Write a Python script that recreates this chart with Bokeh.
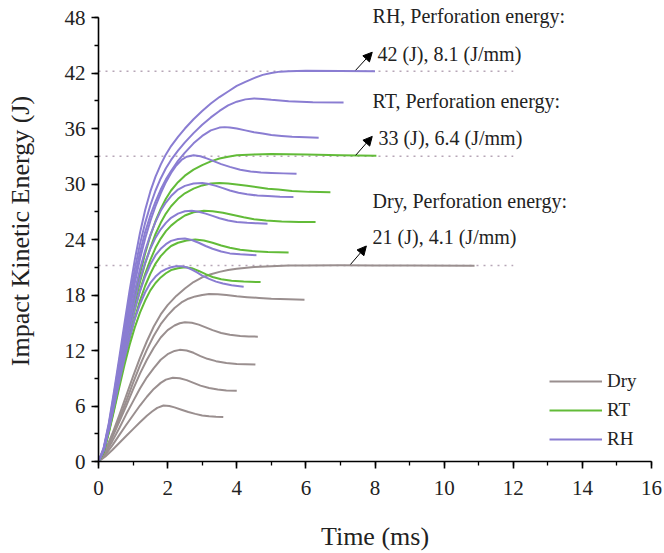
from bokeh.plotting import figure
from bokeh.models import Range1d, SingleIntervalTicker, Label, Arrow, NormalHead
from bokeh.embed import file_html
from bokeh.resources import INLINE

# ---------------- data ----------------
# Dry specimens: time (ms) and impact kinetic energy (J)
dry_t = [
    [0, 0.2, 0.4, 0.6, 0.8, 1.0, 1.2, 1.4, 1.55, 1.7, 1.88, 2.05, 2.2, 2.4, 2.6, 2.8, 3.0, 3.2, 3.4, 3.61],
    [0, 0.2, 0.4, 0.6, 0.8, 1.0, 1.2, 1.4, 1.6, 1.8, 1.95, 2.15, 2.35, 2.55, 2.75, 2.95, 3.2, 3.45, 3.7, 4.0],
    [0, 0.2, 0.4, 0.6, 0.8, 1.0, 1.2, 1.4, 1.6, 1.8, 2.0, 2.2, 2.35, 2.55, 2.75, 2.95, 3.15, 3.4, 3.7, 4.0, 4.25, 4.54],
    [0, 0.2, 0.4, 0.6, 0.8, 1.0, 1.2, 1.4, 1.6, 1.8, 2.0, 2.2, 2.35, 2.5, 2.7, 2.9, 3.1, 3.3, 3.55, 3.8, 4.1, 4.35, 4.61],
    [0, 0.2, 0.4, 0.6, 0.8, 1.0, 1.2, 1.4, 1.6, 1.8, 2.0, 2.2, 2.4, 2.6, 2.8, 3.0, 3.2, 3.45, 3.7, 4.0, 4.3, 4.65, 5.0, 5.5, 5.96],
    [0, 0.2, 0.4, 0.6, 0.8, 1.0, 1.2, 1.4, 1.6, 1.8, 2.0, 2.25, 2.5, 2.75, 3.0, 3.25, 3.5, 3.75, 4.0, 4.5, 5.0, 5.5, 6.0, 7.0, 8.0, 9.0, 10.88],
]
dry_e = [
    [0, 0.55, 1.25, 2.0, 2.75, 3.5, 4.25, 4.95, 5.4, 5.8, 6.05, 6.0, 5.85, 5.6, 5.35, 5.15, 4.98, 4.88, 4.83, 4.8],
    [0, 0.75, 1.75, 2.85, 3.95, 5.0, 6.05, 7.0, 7.85, 8.5, 8.85, 9.05, 9.0, 8.8, 8.5, 8.2, 7.95, 7.78, 7.68, 7.64],
    [0, 0.9, 2.2, 3.6, 5.1, 6.5, 7.9, 9.1, 10.1, 11.0, 11.6, 11.95, 12.07, 12.0, 11.75, 11.4, 11.1, 10.85, 10.65, 10.55, 10.52, 10.5],
    [0, 1.05, 2.6, 4.3, 6.0, 7.8, 9.5, 11.0, 12.3, 13.4, 14.2, 14.7, 14.95, 15.06, 15.0, 14.8, 14.5, 14.2, 13.9, 13.7, 13.58, 13.52, 13.5],
    [0, 1.15, 2.8, 4.6, 6.5, 8.5, 10.4, 12.1, 13.6, 14.85, 15.8, 16.6, 17.2, 17.6, 17.85, 18.0, 18.1, 18.08, 18.0, 17.87, 17.77, 17.68, 17.6, 17.55, 17.5],
    [0, 1.25, 3.0, 5.0, 7.1, 9.2, 11.2, 13.0, 14.6, 15.9, 16.9, 17.9, 18.7, 19.4, 19.9, 20.25, 20.5, 20.7, 20.85, 21.02, 21.12, 21.18, 21.2, 21.22, 21.2, 21.18, 21.15],
]

# RT specimens
rt_t = [
    [0, 0.15, 0.3, 0.45, 0.6, 0.75, 0.9, 1.05, 1.2, 1.35, 1.5, 1.65, 1.8, 1.95, 2.1, 2.3, 2.5, 2.7, 2.9, 3.1, 3.3, 3.55, 3.85, 4.2, 4.69],
    [0, 0.15, 0.3, 0.45, 0.6, 0.75, 0.9, 1.05, 1.2, 1.35, 1.5, 1.65, 1.8, 1.95, 2.1, 2.3, 2.55, 2.8, 3.05, 3.3, 3.55, 3.8, 4.1, 4.45, 4.9, 5.5],
    [0, 0.15, 0.3, 0.45, 0.6, 0.75, 0.9, 1.05, 1.2, 1.35, 1.5, 1.65, 1.8, 1.95, 2.1, 2.3, 2.5, 2.75, 3.05, 3.3, 3.6, 3.9, 4.2, 4.5, 4.85, 5.3, 5.8, 6.28],
    [0, 0.15, 0.3, 0.45, 0.6, 0.75, 0.9, 1.05, 1.2, 1.35, 1.5, 1.65, 1.8, 1.95, 2.1, 2.3, 2.5, 2.75, 3.0, 3.25, 3.5, 3.75, 4.0, 4.3, 4.6, 4.9, 5.2, 5.6, 6.1, 6.71],
    [0, 0.15, 0.3, 0.45, 0.6, 0.75, 0.9, 1.05, 1.2, 1.35, 1.5, 1.65, 1.8, 1.95, 2.1, 2.3, 2.5, 2.75, 3.0, 3.25, 3.5, 3.75, 4.0, 4.5, 5.0, 6.0, 7.0, 8.04],
]
rt_e = [
    [0, 1.0, 3.1, 5.5, 8.0, 10.4, 12.6, 14.5, 16.1, 17.4, 18.5, 19.3, 19.9, 20.35, 20.7, 20.9, 21.0, 20.9, 20.6, 20.25, 19.95, 19.7, 19.55, 19.45, 19.4],
    [0, 1.05, 3.2, 5.7, 8.3, 10.9, 13.3, 15.5, 17.4, 19.0, 20.3, 21.4, 22.2, 22.8, 23.3, 23.65, 23.9, 24.0, 23.9, 23.65, 23.35, 23.1, 22.9, 22.75, 22.65, 22.6],
    [0, 1.1, 3.3, 5.9, 8.7, 11.4, 14.0, 16.4, 18.5, 20.3, 21.8, 23.1, 24.1, 24.9, 25.5, 26.1, 26.6, 26.95, 27.1, 27.05, 26.9, 26.65, 26.4, 26.2, 26.05, 25.95, 25.9, 25.9],
    [0, 1.15, 3.4, 6.1, 9.0, 11.9, 14.6, 17.1, 19.4, 21.4, 23.1, 24.6, 25.8, 26.8, 27.6, 28.4, 29.0, 29.5, 29.85, 30.05, 30.1, 30.05, 29.95, 29.8, 29.65, 29.5, 29.4, 29.25, 29.15, 29.1],
    [0, 1.2, 3.5, 6.3, 9.3, 12.3, 15.2, 17.9, 20.3, 22.5, 24.4, 26.0, 27.3, 28.4, 29.3, 30.2, 30.9, 31.55, 32.05, 32.45, 32.75, 32.95, 33.1, 33.2, 33.25, 33.2, 33.1, 33.05],
]

# RH specimens
rh_t = [
    [0, 0.15, 0.3, 0.45, 0.6, 0.75, 0.9, 1.05, 1.2, 1.35, 1.5, 1.65, 1.8, 1.95, 2.1, 2.25, 2.4, 2.55, 2.7, 2.85, 3.0, 3.2, 3.4, 3.6, 3.85, 4.2],
    [0, 0.15, 0.3, 0.45, 0.6, 0.75, 0.9, 1.05, 1.2, 1.35, 1.5, 1.65, 1.8, 1.95, 2.1, 2.3, 2.5, 2.7, 2.9, 3.1, 3.3, 3.55, 3.8, 4.1, 4.57],
    [0, 0.15, 0.3, 0.45, 0.6, 0.75, 0.9, 1.05, 1.2, 1.35, 1.5, 1.65, 1.8, 1.95, 2.1, 2.3, 2.5, 2.7, 2.9, 3.1, 3.3, 3.5, 3.75, 4.0, 4.3, 4.6, 4.89],
    [0, 0.15, 0.3, 0.45, 0.6, 0.75, 0.9, 1.05, 1.2, 1.35, 1.5, 1.65, 1.8, 1.95, 2.1, 2.3, 2.5, 2.75, 3.0, 3.2, 3.4, 3.6, 3.8, 4.05, 4.3, 4.6, 4.9, 5.25, 5.64],
    [0, 0.15, 0.3, 0.45, 0.6, 0.75, 0.9, 1.05, 1.2, 1.35, 1.5, 1.65, 1.8, 1.95, 2.1, 2.25, 2.4, 2.55, 2.75, 2.95, 3.15, 3.35, 3.55, 3.8, 4.1, 4.4, 4.7, 5.0, 5.35, 5.73],
    [0, 0.15, 0.3, 0.45, 0.6, 0.75, 0.9, 1.05, 1.2, 1.35, 1.5, 1.65, 1.8, 1.95, 2.1, 2.3, 2.5, 2.75, 3.0, 3.25, 3.5, 3.65, 3.8, 4.0, 4.25, 4.5, 4.75, 5.0, 5.3, 5.6, 6.0, 6.37],
    [0, 0.15, 0.3, 0.45, 0.6, 0.75, 0.9, 1.05, 1.2, 1.35, 1.5, 1.65, 1.8, 1.95, 2.1, 2.3, 2.5, 2.75, 3.0, 3.25, 3.5, 3.75, 4.0, 4.25, 4.5, 4.75, 5.0, 5.5, 6.2, 7.09],
    [0, 0.15, 0.3, 0.45, 0.6, 0.75, 0.9, 1.05, 1.2, 1.35, 1.5, 1.65, 1.8, 1.95, 2.1, 2.3, 2.5, 2.75, 3.0, 3.25, 3.5, 3.75, 4.0, 4.25, 4.5, 4.75, 5.0, 5.25, 5.5, 6.0, 7.0, 8.0],
]
rh_e = [
    [0, 1.15, 3.4, 6.0, 8.6, 11.1, 13.4, 15.4, 17.0, 18.3, 19.3, 20.0, 20.5, 20.8, 21.0, 21.1, 21.1, 21.0, 20.75, 20.45, 20.1, 19.75, 19.45, 19.25, 19.05, 18.9],
    [0, 1.2, 3.5, 6.2, 9.0, 11.7, 14.2, 16.5, 18.4, 20.0, 21.3, 22.3, 23.0, 23.5, 23.85, 24.05, 24.1, 23.95, 23.65, 23.3, 23.0, 22.7, 22.5, 22.4, 22.3],
    [0, 1.25, 3.6, 6.4, 9.4, 12.3, 15.0, 17.5, 19.7, 21.5, 23.0, 24.2, 25.1, 25.8, 26.35, 26.8, 27.05, 27.1, 27.0, 26.8, 26.55, 26.3, 26.05, 25.9, 25.8, 25.75, 25.7],
    [0, 1.3, 3.7, 6.6, 9.7, 12.8, 15.7, 18.4, 20.8, 22.8, 24.5, 25.9, 27.1, 28.0, 28.7, 29.4, 29.8, 30.05, 30.1, 30.0, 29.8, 29.55, 29.3, 29.05, 28.9, 28.75, 28.7, 28.62, 28.6],
    [0, 1.3, 3.8, 6.8, 10.0, 13.3, 16.4, 19.3, 21.9, 24.1, 26.0, 27.6, 29.0, 30.2, 31.2, 32.0, 32.6, 32.95, 33.1, 33.0, 32.75, 32.45, 32.15, 31.85, 31.55, 31.35, 31.25, 31.2, 31.15, 31.1],
    [0, 1.35, 3.9, 7.0, 10.4, 13.8, 17.0, 20.0, 22.6, 24.8, 26.6, 28.1, 29.4, 30.5, 31.4, 32.5, 33.4, 34.4, 35.2, 35.8, 36.1, 36.15, 36.1, 36.0, 35.8, 35.6, 35.45, 35.3, 35.2, 35.1, 35.05, 35.0],
    [0, 1.4, 4.0, 7.3, 10.8, 14.3, 17.7, 20.8, 23.5, 25.8, 27.7, 29.3, 30.6, 31.7, 32.6, 33.6, 34.5, 35.5, 36.4, 37.2, 37.9, 38.5, 38.9, 39.15, 39.25, 39.2, 39.1, 38.95, 38.85, 38.8],
    [0, 1.5, 4.2, 7.6, 11.2, 14.9, 18.5, 21.8, 24.7, 27.2, 29.2, 30.8, 32.1, 33.2, 34.1, 35.1, 36.0, 37.0, 37.9, 38.7, 39.4, 40.0, 40.6, 41.05, 41.45, 41.8, 42.0, 42.15, 42.2, 42.25, 42.22, 42.2],
]

# perforation energy annotations
perf_groups = ["RH", "RT", "Dry"]
perf_energy_j = [42, 33, 21]
perf_energy_jmm = [8.1, 6.4, 4.1]
perf_levels = [42.2, 33.0, 21.2]      # dotted reference lines (J)
ref_line_end = 12                      # dotted lines run from t=0 to t=12 ms

x_ticks_interval = 2
y_ticks_interval = 6

# ---------------- styling ----------------
FONT = "Liberation Serif"
C_DRY = "#9a8f8f"
C_RT = "#62bb38"
C_RH = "#8a7dd2"
C_REF = "#b7a6b7"

p = figure(width=664, height=553, output_backend="svg", toolbar_location=None,
           x_range=Range1d(0, 16), y_range=Range1d(0, 49.84),
           min_border_left=98, min_border_right=13, min_border_top=0,
           min_border_bottom=92)
p.outline_line_color = None
p.xgrid.visible = False
p.ygrid.visible = False
p.background_fill_color = "white"
p.border_fill_color = "white"

# reference dotted lines
p.segment(x0=[0] * len(perf_levels), x1=[ref_line_end] * len(perf_levels),
          y0=perf_levels, y1=perf_levels, line_color=C_REF, line_width=1.5,
          line_dash="2 5")

p.multi_line(xs=dry_t, ys=dry_e, line_color=C_DRY, line_width=2, legend_label="Dry",
             line_join="round")
p.multi_line(xs=rt_t, ys=rt_e, line_color=C_RT, line_width=2, legend_label="RT",
             line_join="round")
p.multi_line(xs=rh_t, ys=rh_e, line_color=C_RH, line_width=2, legend_label="RH",
             line_join="round")

# axes
for ax, interval in ((p.xaxis[0], x_ticks_interval), (p.yaxis[0], y_ticks_interval)):
    ax.ticker = SingleIntervalTicker(interval=interval, num_minor_ticks=2)
    ax.axis_line_width = 1.6
    ax.axis_line_color = "black"
    ax.major_tick_line_color = "black"
    ax.major_tick_line_width = 1.6
    ax.minor_tick_line_color = "black"
    ax.minor_tick_line_width = 1.3
    ax.major_tick_in = 0
    ax.major_tick_out = 7
    ax.minor_tick_in = 0
    ax.minor_tick_out = 4
    ax.major_label_text_font = FONT
    ax.major_label_text_font_size = "21px"
    ax.major_label_text_color = "#222222"
    ax.axis_label_text_font = FONT
    ax.axis_label_text_font_size = "26px"
    ax.axis_label_text_font_style = "normal"
    ax.axis_label_text_color = "#222222"

p.xaxis[0].bounds = (0, 16)
p.yaxis[0].bounds = (0, 48)
p.xaxis[0].axis_label = "Time (ms)"
p.yaxis[0].axis_label = "Impact Kinetic Energy (J)"
p.xaxis[0].major_label_standoff = 12
p.yaxis[0].major_label_standoff = 6
p.xaxis[0].axis_label_standoff = 24
p.yaxis[0].axis_label_standoff = 27

# legend
lg = p.legend[0]
lg.location = (451, 11)
lg.border_line_color = None
lg.background_fill_alpha = 0
lg.padding = 0
lg.margin = 0
lg.spacing = 7
lg.glyph_width = 53
lg.glyph_height = 20
lg.label_height = 20
lg.label_standoff = 5
lg.label_text_font = FONT
lg.label_text_font_size = "19px"
lg.label_text_color = "#222222"

# annotations (text + arrows)
head_x = [7.93, 7.93, 7.93]
head_y = [48.2, 39.0, 28.2]
val_x = [8.07, 8.1, 7.93]
val_y = [44.1, 34.95, 24.3]
arrow_start_x = [7.44, 7.44, 7.29]
arrow_end_x = [7.92, 7.92, 7.75]
arrow_rise = [1.95, 2.05, 2.0]

for i, g in enumerate(perf_groups):
    p.add_layout(Label(x=head_x[i], y=head_y[i], text=f"{g}, Perforation energy:",
                       text_font=FONT, text_font_size="20px", text_color="#222222",
                       text_baseline="middle", text_align="left"))
    p.add_layout(Label(x=val_x[i], y=val_y[i],
                       text=f"{perf_energy_j[i]} (J), {perf_energy_jmm[i]} (J/mm)",
                       text_font=FONT, text_font_size="20px", text_color="#222222",
                       text_baseline="middle", text_align="left"))
    p.add_layout(Arrow(x_start=arrow_start_x[i], y_start=perf_levels[i] + 0.1,
                       x_end=arrow_end_x[i], y_end=perf_levels[i] + 0.1 + arrow_rise[i],
                       line_color="black", line_width=1,
                       end=NormalHead(size=9, fill_color="black", line_color="black")))

open("out.html", "w").write(file_html(p, INLINE))
